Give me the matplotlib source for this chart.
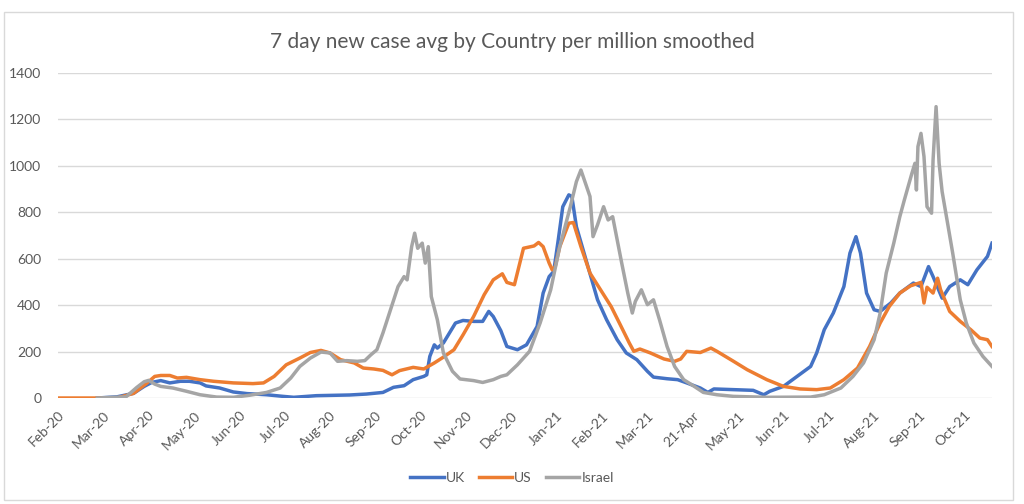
import matplotlib.pyplot as plt
from matplotlib.patches import Rectangle

# day index from the first point (ticks every 30 points)
month_labels = ["Feb-20", "Mar-20", "Apr-20", "May-20", "Jun-20", "Jul-20", "Aug-20",
                "Sep-20", "Oct-20", "Nov-20", "Dec-20", "Jan-21", "Feb-21", "Mar-21",
                "21-Apr", "May-21", "Jun-21", "Jul-21", "Aug-21", "Sep-21", "Oct-21"]

uk_day = [26, 39, 50, 57, 62, 68, 74, 81, 87, 94, 98, 107, 116, 125, 138, 149, 156, 171,
          193, 204, 215, 222, 229, 235, 242, 244, 246, 249, 251, 255, 259, 263, 268, 275,
          281, 285, 288, 293, 297, 304, 310, 317, 321, 325, 328, 331, 334, 338, 340, 343,
          350, 357, 363, 370, 376, 383, 390, 394, 403, 410, 416, 425, 430, 434, 447, 460,
          464, 467, 471, 480, 489, 498, 502, 507, 513, 520, 524, 528, 531, 535, 540, 544,
          551, 557, 566, 571, 576, 579, 585, 590, 597, 602, 608, 615, 618]
uk_val = [0, 5, 20, 50, 67, 75, 65, 72, 72, 65, 52, 43, 26, 19, 14, 7, 3, 10,
          13, 17, 24, 46, 53, 79, 93, 100, 179, 229, 215, 237, 280, 323, 334, 330,
          330, 373, 351, 290, 222, 208, 229, 308, 452, 523, 545, 681, 824, 875, 868, 738,
          581, 423, 337, 251, 194, 165, 115, 90, 83, 79, 65, 43, 24, 39, 36, 33,
          22, 14, 29, 50, 93, 136, 194, 294, 366, 480, 624, 695, 624, 452, 380, 373,
          409, 452, 495, 480, 566, 523, 430, 480, 509, 488, 552, 610, 667]

us_day = [0, 26, 39, 50, 59, 64, 68, 74, 79, 85, 94, 103, 116, 129, 136, 143, 151, 160,
          167, 174, 180, 187, 196, 202, 209, 215, 221, 226, 235, 242, 249, 255, 262, 268,
          275, 282, 288, 294, 297, 302, 308, 315, 318, 321, 325, 327, 329, 332, 338, 341,
          346, 352, 359, 366, 372, 378, 381, 385, 392, 401, 408, 412, 416, 425, 432, 436,
          447, 456, 469, 480, 491, 502, 511, 520, 529, 537, 544, 550, 557, 564, 571, 573,
          575, 579, 582, 584, 590, 597, 604, 610, 615, 618]
us_val = [0, 0, 0, 20, 65, 93, 97, 97, 86, 89, 79, 72, 65, 62, 65, 93, 143, 172,
          196, 205, 194, 165, 151, 129, 125, 119, 100, 118, 132, 125, 151, 176, 208, 272,
          351, 445, 509, 535, 498, 488, 645, 655, 670, 652, 581, 552, 566, 652, 753, 756,
          652, 538, 466, 394, 316, 237, 201, 211, 194, 168, 158, 168, 201, 196, 215, 201,
          158, 122, 79, 50, 39, 36, 43, 79, 129, 222, 323, 394, 452, 483, 498, 409,
          477, 452, 516, 466, 373, 330, 294, 258, 251, 222]

il_day = [26, 45, 52, 57, 60, 64, 68, 76, 85, 94, 105, 116, 127, 138, 147, 154, 160, 167,
          174, 180, 185, 191, 198, 203, 207, 211, 215, 220, 225, 229, 231, 234, 236, 238,
          241, 243, 245, 247, 251, 255, 261, 266, 275, 281, 288, 293, 297, 304, 312, 319,
          326, 332, 339, 343, 346, 349, 352, 354, 357, 361, 364, 367, 373, 377, 380, 382,
          386, 390, 394, 398, 403, 408, 414, 421, 427, 436, 447, 469, 498, 507, 518, 526,
          533, 540, 544, 548, 553, 557, 560, 565, 567, 568, 569, 571, 573, 575, 578, 579,
          581, 583, 585, 589, 592, 597, 601, 606, 612, 618]
il_val = [0, 5, 45, 70, 76, 60, 50, 43, 29, 14, 4, 3, 12, 24, 43, 86, 136, 172,
          198, 194, 158, 161, 158, 161, 186, 208, 280, 380, 480, 523, 509, 652, 710, 645,
          667, 581, 652, 437, 337, 194, 115, 82, 75, 67, 79, 93, 100, 143, 201, 323,
          466, 652, 824, 932, 982, 925, 868, 695, 746, 824, 767, 781, 581, 452, 366, 416,
          466, 402, 423, 337, 222, 136, 79, 50, 24, 14, 7, 3, 4, 14, 43, 93,
          151, 251, 366, 538, 667, 781, 853, 968, 1011, 896, 1083, 1140, 1040, 824, 796, 1025,
          1255, 1011, 889, 738, 624, 423, 323, 237, 179, 136]

plt.rcParams['font.family'] = ['Lato', 'DejaVu Sans']
txt = '#595959'

fig = plt.figure(figsize=(10.24, 5.04), dpi=100)
fig.patches.append(Rectangle((4 / 1024, 4 / 504), 1009 / 1024, 488 / 504,
                             transform=fig.transFigure, fill=False,
                             edgecolor='#D9D9D9', lw=1))
ax = fig.add_axes([58 / 1024, 1 - 398 / 504, 934 / 1024, 325 / 504])

ax.plot(uk_day, uk_val, color='#4472C4', lw=2.5, label='UK')
ax.plot(us_day, us_val, color='#ED7D31', lw=2.5, label='US')
ax.plot(il_day, il_val, color='#A5A5A5', lw=2.5, label='Israel')

ax.set_xlim(0, 618)
ax.set_ylim(0, 1400)
ax.set_yticks(range(0, 1401, 200))
ax.set_xticks(range(0, 601, 30))
ax.set_xticklabels(month_labels, rotation=45, ha='right', rotation_mode='anchor')
ax.tick_params(axis='both', length=0, colors=txt, labelsize=10)
ax.tick_params(axis='x', pad=8)
ax.tick_params(axis='y', pad=12)
ax.grid(axis='y', color='#D9D9D9', lw=1)
ax.set_axisbelow(True)
for s in ax.spines.values():
    s.set_visible(False)

fig.text(0.5, 1 - 42 / 504, "7 day new case avg by Country per million smoothed",
         ha='center', va='center', fontsize=15, color=txt)
fig.legend(loc='center', bbox_to_anchor=(0.5, 1 - 478 / 504), ncol=3, frameon=False,
           fontsize=10, labelcolor=txt, handlelength=2.4, handletextpad=0.15,
           columnspacing=1.0)

fig.savefig('out.png', dpi=100)
